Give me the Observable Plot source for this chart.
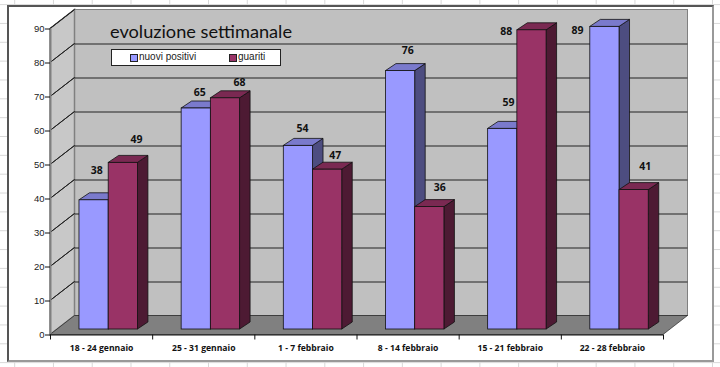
<!DOCTYPE html>
<html lang="it">
<head>
<meta charset="utf-8">
<script src="https://cdn.jsdelivr.net/npm/d3@7"></script>
<script src="https://cdn.jsdelivr.net/npm/@observablehq/plot@0.6"></script>
<style>
html,body{margin:0;padding:0;background:#fff}
#sheet{position:relative;width:720px;height:367px;overflow:hidden;
 background-image:linear-gradient(to right,#d8d8d8 1px,transparent 1px),linear-gradient(to bottom,#d8d8d8 1px,transparent 1px);
 background-size:38.77px 18.85px;background-position:14.2px 4.1px}
#frame{position:absolute;left:7px;top:5px;width:703px;height:353px;background:#fff;border:2px solid #999;border-left-color:#555;border-top-color:#555}
#chart{position:absolute;left:0;top:0}
#title{position:absolute;left:110px;top:20px;font:18.2px Lato,sans-serif;color:#111;white-space:nowrap}
#legend{position:absolute;left:111px;top:49px;width:168px;height:15px;background:#fff;border:1px solid #222;font:10px "Liberation Sans",Arial,sans-serif;color:#222}
#legend i{position:absolute;top:4px;width:6px;height:6px;border:1px solid #222}
#legend span{position:absolute;top:1px;white-space:nowrap}
</style>
</head>
<body>
<div id="sheet">
  <div id="frame"></div>
  <div id="chart"></div>
  <div id="title">evoluzione settimanale</div>
  <div id="legend"></div>
</div>
<script>
const weeks = ["18 - 24 gennaio","25 - 31 gennaio","1 - 7 febbraio","8 - 14 febbraio","15 - 21 febbraio","22 - 28 febbraio"];
const nuoviPositivi = [38,65,54,76,59,89];
const guariti = [49,68,47,36,88,41];
const yTicks = [0,10,20,30,40,50,60,70,80,90];
const seriesNames = ["nuovi positivi","guariti"];
const frontColors = ["#9999ff","#993366"];
const topColors = ["#7a7acc","#7a2952"];
const sideColors = ["#4d4d80","#4d1a33"];
// label offsets (px) from each bar's front-top centre, as placed in the reference
const labelOffsets = [
  [[9.2,-35.5],[10,-21.5],[10.5,-23],[13.7,-26],[12.2,-32],[-21,-2]],
  [[19.7,-29],[20.5,-21],[14,-20],[16.5,-25],[-19.3,-4.6],[17.5,-29]]
];

const barStart = [0.22,0.506], barWidth = 0.286;
const barDepth = [10.5,-7], barShift = {dx:6.5,dy:-5.5}, wallDepth = [24.5,-19];
const lastX = weeks.length, yMax = yTicks[yTicks.length-1];

// Turns each rect produced by Plot's scales into a sheared face of a 3D box
const face = (kind,[ox,oy]) => (index,scales,values,dims,ctx,next) => {
  const g = next(index,scales,values,dims,ctx);
  d3.select(g).selectAll("rect").each(function(){
    const r = d3.select(this), x=+r.attr("x"), y=+r.attr("y"), w=+r.attr("width"), h=+r.attr("height");
    const pts = kind==="top"
      ? [[x,y],[x+w,y],[x+w+ox,y+oy],[x+ox,y+oy]]
      : [[x+w,y],[x+w+ox,y+oy],[x+w+ox,y+h+oy],[x+w,y+h]];
    const p = document.createElementNS("http://www.w3.org/2000/svg","path");
    p.setAttribute("d","M"+pts.join("L")+"Z");
    this.replaceWith(p);
  });
  return g;
};

const bars = s => weeks.map((w,i)=>({
  x1:i+barStart[s], x2:i+barStart[s]+barWidth,
  value:(s?guariti:nuoviPositivi)[i], s, i
}));
const barMarks = s => {
  const d = bars(s), st = {stroke:"#111",strokeWidth:.8,...barShift};
  return [
    Plot.rect(d,{x1:"x1",x2:"x2",y1:()=>0,y2:"value",fill:sideColors[s],...st,render:face("side",barDepth)}),
    Plot.rect(d,{x1:"x1",x2:"x2",y1:"value",y2:"value",fill:topColors[s],...st,render:face("top",barDepth)}),
    Plot.rect(d,{x1:"x1",x2:"x2",y1:()=>0,y2:"value",fill:frontColors[s],...st})
  ];
};
const labelMarks = s => bars(s).map(d=>Plot.text([d],{
  x:b=>(b.x1+b.x2)/2, y:"value", text:"value",
  dx:labelOffsets[s][d.i][0], dy:labelOffsets[s][d.i][1],
  fontFamily:"Open Sans", fontWeight:"bold", fontSize:10.5, fill:"#111"
}));

const wall = {x1:()=>0,x2:()=>lastX};
const plot = Plot.plot({
  width:720,height:367,
  marginLeft:50,marginRight:57,marginTop:28.5,marginBottom:32.5,
  style:{background:"transparent",fontFamily:"'Liberation Sans',Arial,sans-serif"},
  x:{domain:[0,lastX],axis:null},
  y:{domain:[0,yMax],axis:null},
  marks:[
    // back wall, side wall, floor
    Plot.rect([0],{...wall,y1:()=>0,y2:()=>yMax,fill:"#c0c0c0",stroke:"#808080",dx:wallDepth[0],dy:wallDepth[1]}),
    Plot.rect([0],{x1:()=>0,x2:()=>0,y1:()=>0,y2:()=>yMax,fill:"#c8c8c8",stroke:"#808080",strokeWidth:1.5,render:face("side",wallDepth)}),
    Plot.rect([0],{...wall,y1:()=>0,y2:()=>0,fill:"#808080",stroke:"#111",strokeWidth:.6,render:face("top",wallDepth)}),
    // gridlines on back wall and side wall
    Plot.ruleY(yTicks.slice(1,-1),{x1:()=>0,x2:()=>lastX,stroke:"#222",dx:wallDepth[0],dy:wallDepth[1]}),
    Plot.rect(yTicks.slice(1),{x1:()=>0,x2:()=>0,y1:d=>d,y2:d=>d,stroke:"#222",render:face("side",wallDepth)}),
    // bars
    ...barMarks(0),
    ...barMarks(1),
    ...labelMarks(0),
    ...labelMarks(1),
    // axes
    Plot.ruleX([0],{y1:()=>0,y2:()=>yMax,stroke:"#808080",strokeWidth:2}),
    Plot.ruleY([0],{x1:()=>0,x2:()=>lastX,stroke:"#111",strokeWidth:1.2}),
    Plot.axisY({ticks:yTicks,tickSize:5,tickPadding:1,label:null,fontSize:9.5,stroke:"#111",fill:"#222"}),
    Plot.axisX({ticks:d3.range(lastX+1),tickSize:5,tickFormat:()=>"",label:null,stroke:"#111"}),
    Plot.axisX({ticks:weeks.map((w,i)=>i+.5),tickSize:0,tickPadding:9.5,tickFormat:v=>weeks[v-.5],label:null,fontFamily:"Open Sans",fontWeight:"bold",fontSize:8.6,fill:"#111"})
  ]
});
document.getElementById("chart").appendChild(plot);

const legend = document.getElementById("legend");
[[18,27],[117,126]].forEach(([sx,tx],s)=>{
  legend.insertAdjacentHTML("beforeend",`<i style="left:${sx}px;background:${frontColors[s]}"></i><span style="left:${tx}px">${seriesNames[s]}</span>`);
});
</script>
</body>
</html>
